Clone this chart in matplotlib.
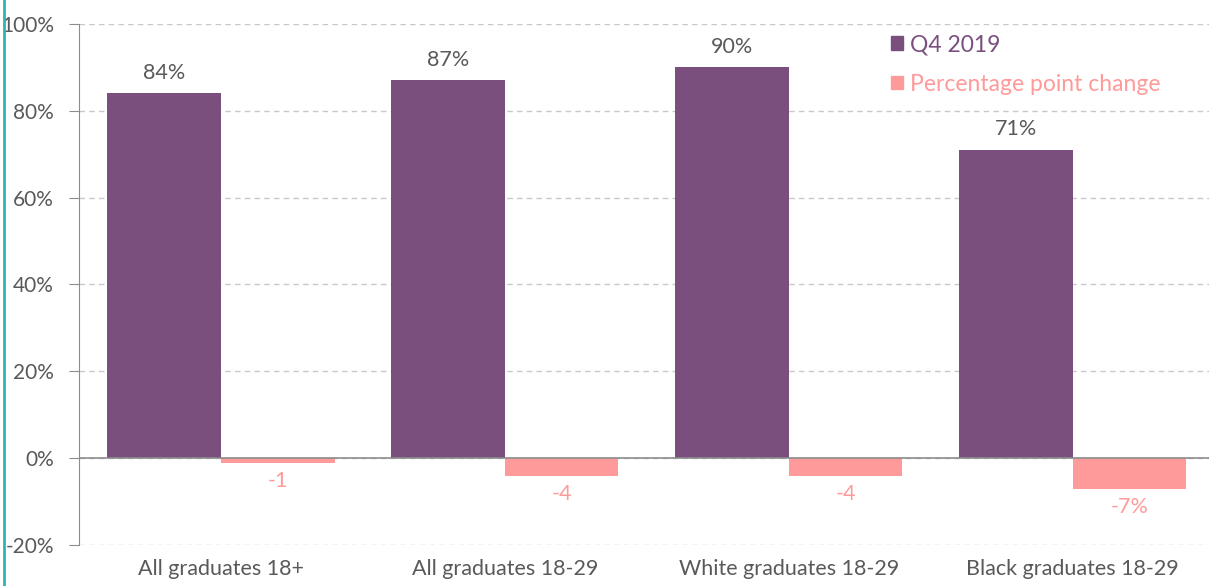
import matplotlib
matplotlib.use("Agg")
import matplotlib.pyplot as plt
from matplotlib.lines import Line2D
from matplotlib.patches import Patch
import numpy as np

categories = ["All graduates 18+", "All graduates 18-29", "White graduates 18-29", "Black graduates 18-29"]
q4_2019 = [84, 87, 90, 71]
pp_change = [-1, -4, -4, -7]
q4_labels = ["84%", "87%", "90%", "71%"]
change_labels = ["-1", "-4", "-4", "-7%"]
yticks = [-20, 0, 20, 40, 60, 80, 100]
ytick_labels = ["-20%", "0%", "20%", "40%", "60%", "80%", "100%"]

PURPLE = "#7a4f7e"
PINK = "#ff9a9a"
GREY = "#595959"
FS = 15.5

plt.rcParams['font.family'] = ['Lato', 'DejaVu Sans']

W, H = 1209, 586
fig = plt.figure(figsize=(W/100, H/100), dpi=100)
ax = fig.add_axes([79/W, 1-545/H, (W-79)/W, (545-24)/H])

x = np.arange(len(categories))
bw = 0.4
ax.bar(x - bw/2, q4_2019, width=bw, color=PURPLE, zorder=3)
ax.bar(x + bw/2, pp_change, width=bw, color=PINK, zorder=3)

for i in range(len(categories)):
    ax.text(x[i] - bw/2, q4_2019[i] + 2.5, q4_labels[i], ha='center', va='bottom',
            fontsize=FS, color=GREY)
    ax.text(x[i] + bw/2, pp_change[i] - 2.0, change_labels[i], ha='center', va='top',
            fontsize=FS, color=PINK)

ax.set_xlim(-0.5, 3.48)
ax.set_ylim(-20, 100)
ax.set_yticks(yticks)
ax.set_yticklabels(ytick_labels, fontsize=15, color=GREY)
ax.set_xticks(x)
ax.set_xticklabels(categories, fontsize=FS, color=GREY)
ax.tick_params(axis='x', length=0, pad=10)
ax.tick_params(axis='y', length=7, color='#8c8c8c', pad=11)

ax.grid(axis='y', linestyle=(0, (4, 3)), color='#c8c8c8', linewidth=1, zorder=0)
ax.axhline(0, color='#8c8c8c', linewidth=1.2, zorder=4)
for s in ['top', 'right', 'bottom']:
    ax.spines[s].set_visible(False)
ax.spines['left'].set_color('#8c8c8c')

handles = [Patch(color=PURPLE, label='Q4 2019'), Patch(color=PINK, label='Percentage point change')]
leg = ax.legend(handles=handles, loc='upper left', bbox_to_anchor=((870 - 79)/(W - 79), 1.02),
                bbox_transform=ax.transAxes,
                frameon=False, fontsize=16.5, handlelength=0.55, handleheight=0.55,
                handletextpad=0.3, labelspacing=0.8)
for t, c in zip(leg.get_texts(), [PURPLE, PINK]):
    t.set_color(c)

fig.add_artist(Line2D([4/W, 4/W], [0, 1], color='#2bb5b8', linewidth=2, transform=fig.transFigure))

fig.savefig("out.png", dpi=100)
